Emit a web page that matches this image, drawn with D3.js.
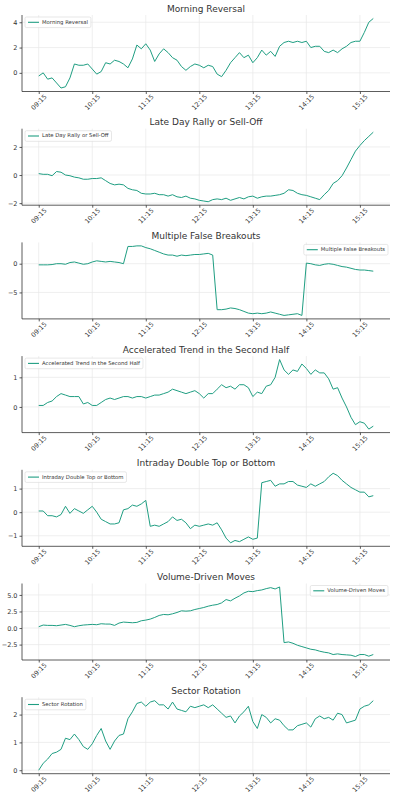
<!DOCTYPE html>
<meta charset="utf-8">
<style>
    body { margin: 0; background: #fff; }
    svg text { font-family: "DejaVu Sans", sans-serif; fill: #333; }
    .grid line { stroke: #e8e8e8; stroke-width: 0.7; }
    .axis path, .axis line { stroke: #333; stroke-width: 0.8; }
</style>
<svg id="chart" width="397" height="800"></svg>
<script src="https://cdn.jsdelivr.net/npm/d3@7/dist/d3.min.js"></script>
<script>

// x axis: minutes after 09:15, one value every 5 minutes up to 15:30
var stepMinutes = 5;
var tickMinutes = [0, 60, 120, 180, 240, 300, 360];
var tickLabels = ["09:15", "10:15", "11:15", "12:15", "13:15", "14:15", "15:15"];

var morningReversal = [-0.25, 0.0, -0.5, -0.4, -0.8, -1.2, -1.1, -0.4, 0.7, 0.6,
    0.6, 0.7, 0.3, -0.1, 0.1, 0.8, 0.7, 1.0, 0.9, 0.7,
    0.4, 1.1, 2.2, 1.9, 2.3, 1.8, 0.9, 1.5, 1.9, 1.6,
    1.2, 1.0, 0.5, 0.2, 0.5, 0.7, 0.6, 0.4, 0.6, 0.5,
    -0.1, -0.3, 0.2, 0.8, 1.2, 1.6, 1.2, 1.4, 0.8, 1.2,
    1.8, 1.4, 1.7, 1.3, 2.1, 2.4, 2.5, 2.4, 2.5, 2.4,
    2.5, 2.0, 2.1, 2.1, 1.7, 1.6, 1.8, 1.6, 1.9, 2.1,
    2.4, 2.5, 2.5, 3.2, 4.0, 4.3];

var lateDayRally = [0.1, 0.05, 0.05, -0.05, 0.25, 0.2, 0.0, -0.05, -0.15, -0.2,
    -0.3, -0.3, -0.25, -0.25, -0.2, -0.4, -0.6, -0.7, -0.65, -0.7,
    -0.95, -1.05, -1.1, -1.3, -1.35, -1.35, -1.3, -1.4, -1.4, -1.5,
    -1.4, -1.55, -1.6, -1.5, -1.65, -1.7, -1.8, -1.85, -1.9, -1.75,
    -1.7, -1.75, -1.65, -1.8, -1.7, -1.6, -1.7, -1.55, -1.5, -1.65,
    -1.55, -1.5, -1.5, -1.45, -1.4, -1.3, -1.05, -1.1, -1.3, -1.4,
    -1.45, -1.55, -1.65, -1.75, -1.4, -1.1, -0.6, -0.4, -0.05, 0.5,
    1.1, 1.7, 2.1, 2.45, 2.75, 3.05];

var falseBreakouts = [-0.2, -0.2, -0.2, -0.15, 0.0, 0.0, -0.1, 0.2, 0.3, 0.1,
    -0.1, 0.0, 0.3, 0.5, 0.4, 0.3, 0.4, 0.3, 0.2, 0.0,
    3.0, 3.0, 3.1, 3.1, 2.8, 2.6, 2.3, 2.0, 1.7, 1.5,
    1.5, 1.3, 1.5, 1.4, 1.5, 1.6, 1.6, 1.7, 1.8, 1.5,
    -8.0, -8.0, -7.9, -7.7, -7.8, -8.0, -8.3, -8.6, -8.7, -8.6,
    -8.7, -8.6, -8.4, -8.6, -8.8, -9.0, -8.9, -8.8, -8.7, -9.0,
    0.1, 0.0, -0.2, -0.3, -0.1, 0.0, -0.1, -0.3, -0.5, -0.6,
    -0.8, -1.0, -1.1, -1.1, -1.2, -1.3];

var acceleratedTrend = [0.05, 0.05, 0.15, 0.2, 0.35, 0.45, 0.4, 0.35, 0.35, 0.35,
    0.1, 0.15, 0.05, 0.05, 0.15, 0.25, 0.3, 0.25, 0.3, 0.35,
    0.35, 0.3, 0.35, 0.35, 0.3, 0.35, 0.4, 0.4, 0.45, 0.5,
    0.6, 0.55, 0.5, 0.45, 0.5, 0.55, 0.45, 0.3, 0.45, 0.45,
    0.6, 0.75, 0.65, 0.7, 0.6, 0.75, 0.75, 0.65, 0.35, 0.5,
    0.45, 0.7, 0.75, 1.0, 1.6, 1.25, 1.1, 1.25, 1.2, 1.45,
    1.3, 1.1, 1.25, 1.15, 1.15, 0.95, 0.6, 0.65, 0.3, 0.0,
    -0.35, -0.6, -0.5, -0.55, -0.75, -0.65];

var doubleTopBottom = [0.05, 0.05, -0.15, -0.15, -0.2, -0.1, 0.25, -0.05, 0.15, 0.05,
    -0.05, 0.1, 0.25, 0.0, -0.3, -0.4, -0.5, -0.5, -0.45, 0.1,
    0.15, 0.3, 0.25, 0.35, 0.5, -0.6, -0.55, -0.6, -0.5, -0.4,
    -0.2, -0.35, -0.3, -0.45, -0.7, -0.55, -0.6, -0.55, -0.5, -0.55,
    -0.45, -0.75, -1.1, -1.3, -1.2, -1.25, -1.15, -1.05, -1.15, -1.1,
    1.25, 1.3, 1.35, 1.1, 1.2, 1.2, 1.3, 1.3, 1.15, 1.1,
    1.05, 1.2, 1.1, 1.2, 1.3, 1.5, 1.65, 1.55, 1.35, 1.2,
    1.05, 0.95, 0.85, 0.85, 0.65, 0.7];

var volumeDriven = [0.2, 0.45, 0.4, 0.4, 0.35, 0.45, 0.55, 0.4, 0.2, 0.35,
    0.45, 0.5, 0.55, 0.5, 0.65, 0.6, 0.6, 0.4, 0.75, 0.9,
    0.85, 0.8, 0.85, 1.1, 1.2, 1.35, 1.6, 1.9, 2.05, 2.0,
    2.15, 2.35, 2.6, 2.55, 2.6, 2.8, 2.95, 3.1, 3.3, 3.45,
    3.55, 3.8, 4.3, 4.1, 4.5, 4.85, 5.3, 5.55, 5.5, 5.65,
    5.75, 5.95, 6.1, 5.9, 6.2, -2.2, -2.1, -2.3, -2.6, -2.8,
    -3.0, -3.2, -3.3, -3.5, -3.65, -3.75, -4.0, -3.9, -4.0, -4.05,
    -4.1, -4.3, -4.0, -4.0, -4.25, -4.0];

var sectorRotation = [0.0, 0.25, 0.4, 0.6, 0.65, 0.75, 1.15, 1.1, 1.3, 1.1,
    0.85, 0.75, 0.95, 1.25, 1.5, 1.05, 0.75, 1.05, 1.25, 1.3,
    1.85, 2.1, 2.4, 2.45, 2.3, 2.45, 2.5, 2.35, 2.35, 2.2,
    2.45, 2.2, 2.15, 2.1, 2.3, 2.25, 2.3, 2.35, 2.25, 2.35,
    2.2, 2.05, 1.9, 1.95, 1.7, 1.95, 2.1, 2.3, 1.75, 1.5,
    2.0, 1.9, 1.7, 1.85, 1.8, 1.6, 1.45, 1.45, 1.6, 1.65,
    1.7, 1.55, 1.85, 1.95, 1.85, 1.9, 1.8, 2.05, 2.0, 1.7,
    1.75, 1.8, 2.2, 2.3, 2.35, 2.5];

var panelTitles = ["Morning Reversal", "Late Day Rally or Sell-Off", "Multiple False Breakouts",
    "Accelerated Trend in the Second Half", "Intraday Double Top or Bottom", "Volume-Driven Moves", "Sector Rotation"];
var panelSeries = [morningReversal, lateDayRally, falseBreakouts, acceleratedTrend,
    doubleTopBottom, volumeDriven, sectorRotation];
var panelYTicks = [[0, 2, 4], [-2, 0, 2], [-5, 0], [0, 1], [-1, 0, 1], [-2.5, 0, 2.5, 5], [0, 1, 2]];
var legendOnRight = [false, false, true, false, false, true, false];

var lineColor = "#1f9e82";
var left = 22, right = 390, axisH = 76.5, firstTop = 15, pitch = 113.7;

var svg = d3.select("#chart");

// same x scale for every panel, with matplotlib style 5% padding
var lastMinute = (morningReversal.length - 1) * stepMinutes;
var pad = lastMinute * 0.05;
var x = d3.scaleLinear().domain([-pad, lastMinute + pad]).range([left, right]);

var fmtTick = function(d, ticks) {
    var dec = ticks.some(t => t % 1 !== 0) ? 1 : 0;
    return d3.format("." + dec + "f")(d).replace("-", "\u2212");
};

panelSeries.forEach(function(values, i) {
    var top = firstTop + i * pitch;
    var bottom = top + axisH;
    var g = svg.append("g");

    var ext = d3.extent(values);
    var yPad = (ext[1] - ext[0]) * 0.05;
    var y = d3.scaleLinear().domain([ext[0] - yPad, ext[1] + yPad]).range([bottom, top]);

    // grid
    var grid = g.append("g").attr("class", "grid");
    grid.selectAll(".gx").data(tickMinutes).enter().append("line")
        .attr("x1", d => x(d)).attr("x2", d => x(d))
        .attr("y1", top).attr("y2", bottom);
    grid.selectAll(".gy").data(panelYTicks[i]).enter().append("line")
        .attr("x1", left).attr("x2", right)
        .attr("y1", d => y(d)).attr("y2", d => y(d));

    // title
    g.append("text")
        .attr("x", (left + right) / 2).attr("y", top - 3.5)
        .attr("text-anchor", "middle")
        .style("font-size", "9px")
        .attr("fill", "#3a3a3a")
        .text(panelTitles[i]);

    // the series
    var line = d3.line()
        .x((d, j) => x(j * stepMinutes))
        .y(d => y(d));
    g.append("path")
        .datum(values)
        .attr("d", line)
        .attr("fill", "none")
        .attr("stroke", lineColor)
        .attr("stroke-width", 1.0)
        .attr("stroke-linejoin", "round");

    // axes
    var yAxis = g.append("g").attr("class", "axis")
        .attr("transform", "translate(" + left + ",0)")
        .call(d3.axisLeft(y).tickValues(panelYTicks[i]).tickSize(2.5).tickPadding(2)
            .tickFormat(d => fmtTick(d, panelYTicks[i])));
    yAxis.select(".domain").attr("d", "M0," + top + "V" + bottom);
    yAxis.selectAll("text").style("font-size", "6.5px").attr("fill", "#444");

    var xAxis = g.append("g").attr("class", "axis")
        .attr("transform", "translate(0," + bottom + ")")
        .call(d3.axisBottom(x).tickValues(tickMinutes).tickSize(2.5)
            .tickFormat((d, j) => tickLabels[j]));
    xAxis.select(".domain").attr("d", "M" + left + ",0H" + right);
    xAxis.selectAll("text")
        .style("font-size", "6.5px").attr("fill", "#444")
        .attr("text-anchor", "middle")
        .attr("y", 0).attr("dy", 0)
        .attr("transform", "translate(0,11) rotate(-45)")
        .attr("dominant-baseline", "middle");

    // legend
    var lg = g.append("g");
    var box = lg.append("rect")
        .attr("fill", "#fff").attr("fill-opacity", 0.85)
        .attr("stroke", "#d6d6d6").attr("stroke-width", 0.6)
        .attr("rx", 1.5);
    var label = lg.append("text")
        .attr("x", 17).attr("y", 5.3)
        .attr("dominant-baseline", "middle")
        .style("font-size", "5.3px").attr("fill", "#444")
        .text(panelTitles[i]);
    lg.append("line")
        .attr("x1", 3).attr("x2", 14).attr("y1", 5.3).attr("y2", 5.3)
        .attr("stroke", lineColor).attr("stroke-width", 1.1);
    var w = label.node().getComputedTextLength() + 20;
    box.attr("width", w).attr("height", 10.6);
    var lx = legendOnRight[i] ? right - 2 - w : left + 3;
    lg.attr("transform", "translate(" + lx + "," + (top + 2) + ")");
});

</script>
